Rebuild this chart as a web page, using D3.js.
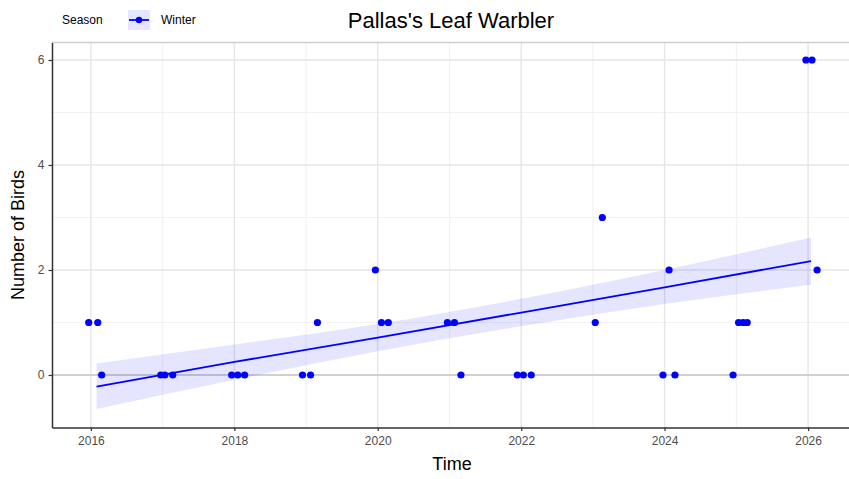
<!DOCTYPE html>
<html>
<head>
<meta charset="utf-8">
<script src="https://cdn.jsdelivr.net/npm/d3@7"></script>
<style>
  html, body { margin: 0; padding: 0; background: #fff; }
  svg { display: block; font-family: "Liberation Sans", Arial, sans-serif; }
</style>
</head>
<body>
<svg id="chart" width="849" height="479"></svg>
<script>
// Winter survey counts of Pallas's Leaf Warbler
const obsDates = [
  "2015-12-21", "2016-02-05", "2016-02-25",
  "2016-12-22", "2017-01-12", "2017-02-21",
  "2017-12-18", "2018-01-18", "2018-02-22",
  "2018-12-14", "2019-01-24", "2019-02-28",
  "2019-12-20", "2020-01-20", "2020-02-24",
  "2020-12-21", "2021-01-26", "2021-02-28",
  "2021-12-12", "2022-01-12", "2022-02-21",
  "2023-01-13", "2023-02-18",
  "2023-12-24", "2024-01-24", "2024-02-23",
  "2024-12-15", "2025-01-12", "2025-02-04", "2025-02-25",
  "2025-12-21", "2026-01-21", "2026-02-16"
];
const obsCounts = [
  1, 1, 0,
  0, 0, 0,
  0, 0, 0,
  0, 0, 1,
  2, 1, 1,
  1, 1, 0,
  0, 0, 0,
  1, 3,
  0, 2, 0,
  0, 1, 1, 1,
  6, 6, 2
];

// Linear trend with its confidence band
const trendDates = ["2016-01-30", "2018-01-01", "2020-01-01", "2022-01-01", "2024-01-01", "2026-01-16"];
const trendFit   = [-0.22, 0.25, 0.71, 1.19, 1.67, 2.17];
const trendLow   = [-0.65, -0.09, 0.45, 0.93, 1.35, 1.72];
const trendHigh  = [0.22, 0.58, 0.97, 1.45, 2.00, 2.62];

const yTicks = [0, 2, 4, 6];
const yMinor = [1, 3, 5];
const xTickYears = [2016, 2018, 2020, 2022, 2024, 2026];
const xMinorYears = [2017, 2019, 2021, 2023, 2025];

const seriesName = "Winter";
const legendTitle = "Season";
const chartTitle = "Pallas's Leaf Warbler";
const xTitle = "Time";
const yTitle = "Number of Birds";

const parse = d3.timeParse("%Y-%m-%d");
const points = obsDates.map((d, i) => ({ date: parse(d), count: obsCounts[i] }));
const trend = trendDates.map((d, i) => ({ date: parse(d), fit: trendFit[i], lo: trendLow[i], hi: trendHigh[i] }));

const svg = d3.select("#chart");
const panel = { left: 52, right: 855, top: 42.5, bottom: 427.5 };

const x = d3.scaleTime()
  .domain([parse("2015-06-17"), parse("2026-08-28")])
  .range([panel.left, panel.right]);
const y = d3.scaleLinear()
  .domain([-1.0, 6.333])
  .range([panel.bottom, panel.top]);

const blue = "#0000ff";
const yr = v => new Date(v, 0, 1);

// panel background and grid
const g = svg.append("g");
g.append("rect")
  .attr("x", panel.left).attr("y", panel.top)
  .attr("width", panel.right - panel.left).attr("height", panel.bottom - panel.top)
  .attr("fill", "#fff");

g.selectAll(".ymin").data(yMinor).join("line")
  .attr("x1", panel.left).attr("x2", panel.right)
  .attr("y1", d => y(d)).attr("y2", d => y(d))
  .attr("stroke", "#f2f2f2").attr("stroke-width", 1.2);
g.selectAll(".xmin").data(xMinorYears).join("line")
  .attr("x1", d => x(yr(d))).attr("x2", d => x(yr(d)))
  .attr("y1", panel.top).attr("y2", panel.bottom)
  .attr("stroke", "#f2f2f2").attr("stroke-width", 1.2);
g.selectAll(".ymaj").data(yTicks).join("line")
  .attr("x1", panel.left).attr("x2", panel.right)
  .attr("y1", d => y(d)).attr("y2", d => y(d))
  .attr("stroke", "#e6e6e6").attr("stroke-width", 1.4);
g.selectAll(".xmaj").data(xTickYears).join("line")
  .attr("x1", d => x(yr(d))).attr("x2", d => x(yr(d)))
  .attr("y1", panel.top).attr("y2", panel.bottom)
  .attr("stroke", "#e6e6e6").attr("stroke-width", 1.4);

// reference line at zero
g.append("line")
  .attr("x1", panel.left).attr("x2", panel.right)
  .attr("y1", y(0)).attr("y2", y(0))
  .attr("stroke", "#d0d0d0").attr("stroke-width", 1.8);

// confidence band and trend line
g.append("path").datum(trend)
  .attr("d", d3.area().x(d => x(d.date)).y0(d => y(d.lo)).y1(d => y(d.hi)).curve(d3.curveMonotoneX))
  .attr("fill", blue).attr("fill-opacity", 0.1);
g.append("path").datum(trend)
  .attr("d", d3.line().x(d => x(d.date)).y(d => y(d.fit)))
  .attr("fill", "none").attr("stroke", blue).attr("stroke-width", 1.8);

// observations
g.selectAll(".pt").data(points).join("circle")
  .attr("cx", d => x(d.date)).attr("cy", d => y(d.count))
  .attr("r", 3.6).attr("fill", blue);

// panel border (top/right light, axes dark)
g.append("line").attr("x1", panel.left).attr("x2", panel.right)
  .attr("y1", panel.top).attr("y2", panel.top)
  .attr("stroke", "#cfcfcf").attr("stroke-width", 1.6);
g.append("line").attr("x1", panel.right).attr("x2", panel.right)
  .attr("y1", panel.top).attr("y2", panel.bottom)
  .attr("stroke", "#cfcfcf").attr("stroke-width", 1.6);

// axes
const xAxis = d3.axisBottom(x)
  .tickValues(xTickYears.map(yr))
  .tickFormat(d3.timeFormat("%Y"))
  .tickSize(3.5).tickPadding(5).tickSizeOuter(0);
const yAxis = d3.axisLeft(y)
  .tickValues(yTicks)
  .tickFormat(d3.format("d"))
  .tickSize(3.5).tickPadding(4).tickSizeOuter(0);

const gx = svg.append("g").attr("transform", `translate(0,${panel.bottom})`).call(xAxis);
const gy = svg.append("g").attr("transform", `translate(${panel.left},0)`).call(yAxis);
[gx, gy].forEach(a => {
  a.select(".domain").attr("stroke", "#333").attr("stroke-width", 1.5);
  a.selectAll(".tick line").attr("stroke", "#333").attr("stroke-width", 1.2);
  a.selectAll(".tick text").attr("fill", "#4d4d4d").style("font-size", "12px");
});

// titles
svg.append("text")
  .attr("x", 451).attr("y", 28)
  .attr("text-anchor", "middle").style("font-size", "22px").attr("fill", "#000")
  .text(chartTitle);
svg.append("text")
  .attr("x", 452).attr("y", 470)
  .attr("text-anchor", "middle").style("font-size", "18px").attr("fill", "#000")
  .text(xTitle);
svg.append("text")
  .attr("transform", `translate(24,${(panel.top + panel.bottom) / 2}) rotate(-90)`)
  .attr("text-anchor", "middle").style("font-size", "18px").attr("fill", "#000")
  .text(yTitle);

// legend
const lg = svg.append("g");
lg.append("text").attr("x", 62).attr("y", 24)
  .style("font-size", "12px").attr("fill", "#000").text(legendTitle);
lg.append("rect").attr("x", 128).attr("y", 10).attr("width", 22).attr("height", 20)
  .attr("fill", blue).attr("fill-opacity", 0.1);
lg.append("line").attr("x1", 129).attr("x2", 149).attr("y1", 20).attr("y2", 20)
  .attr("stroke", blue).attr("stroke-width", 1.8);
lg.append("circle").attr("cx", 139).attr("cy", 20).attr("r", 3.2).attr("fill", blue);
lg.append("text").attr("x", 161).attr("y", 24)
  .style("font-size", "12px").attr("fill", "#000").text(seriesName);
</script>
</body>
</html>
